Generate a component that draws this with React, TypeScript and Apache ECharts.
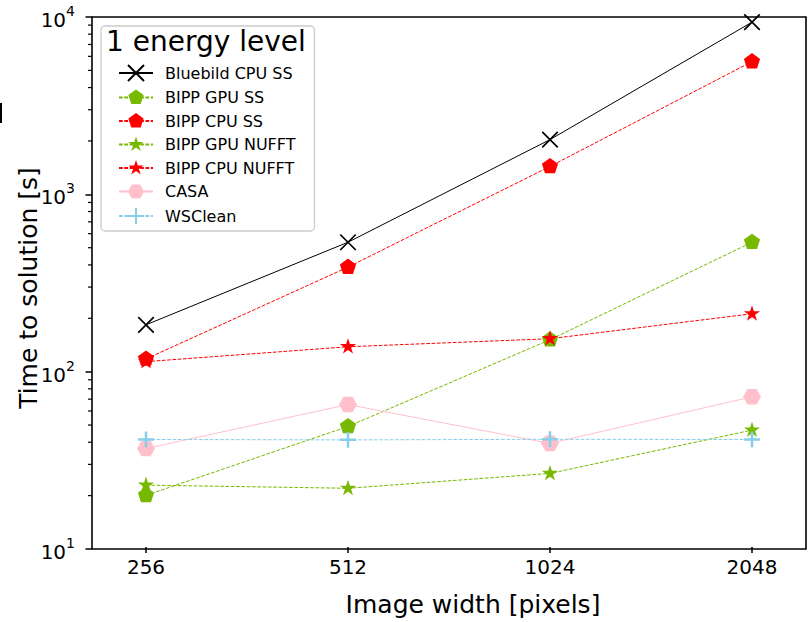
import { useEffect, useRef } from 'react';
import * as echarts from 'echarts';

// Image widths on the x axis (pixels)
const widths = ['256', '512', '1024', '2048'];

// Time to solution in seconds, one list per imager
const bluebildCpuSS = [181, 531, 2023, 9350];
const bippGpuSS = [19.6, 48.1, 149, 531];
const bippCpuSS = [116, 384, 1426, 5590];
const bippGpuNufft = [22.4, 21.5, 26.1, 45.9];
const bippCpuNufft = [112, 136, 151, 209];
const casa = [36.1, 64, 38.6, 70.8];
const wsclean = [40.6, 40.4, 40.7, 40.6];

// Minor ticks of the log axis (2..9 within each decade)
const minorTickValues = [
  20, 30, 40, 50, 60, 70, 80, 90,
  200, 300, 400, 500, 600, 700, 800, 900,
  2000, 3000, 4000, 5000, 6000, 7000, 8000, 9000,
];

const FONT = '"DejaVu Sans", sans-serif';

// Regular polygon / star outline on a unit circle, padded to a centred square box
function polyPath(n: number, startDeg: number, inner?: number): string {
  const pts: string[] = [];
  const count = inner ? n * 2 : n;
  for (let k = 0; k < count; k++) {
    const r = inner && k % 2 === 1 ? inner : 1;
    const a = ((startDeg + (k * 360) / count) * Math.PI) / 180;
    pts.push(`${(r * Math.cos(a)).toFixed(4)} ${(r * Math.sin(a)).toFixed(4)}`);
  }
  return `path://M${pts.join('L')}ZM-1 -1M1 1`;
}

const PENTAGON = polyPath(5, -90);
const STAR = polyPath(5, -90, 0.382);
const HEXAGON = polyPath(6, 0);
const CROSS = 'path://M-1 -1L1 1M1 -1L-1 1';
const PLUS = 'path://M0 -1L0 1M-1 0L1 0';

const DASH = [3.7, 1.6];

function makeSeries(
  name: string,
  data: number[],
  color: string,
  symbol: string,
  symbolSize: number,
  dashed: boolean,
  stroked: boolean,
) {
  return {
    type: 'line',
    name,
    data,
    xAxisIndex: 1,
    yAxisIndex: 1,
    symbol,
    symbolSize,
    showAllSymbol: true,
    lineStyle: { color, width: 1, type: dashed ? DASH : 'solid' },
    itemStyle: stroked
      ? { color, borderColor: color, borderWidth: name === 'WSClean' ? 2.5 : 1.7 }
      : { color, borderWidth: 0 },
    emphasis: { disabled: true },
  };
}

export default function App() {
  const ref = useRef<HTMLDivElement>(null);

  useEffect(() => {
    if (!ref.current) return;
    const chart = echarts.init(ref.current, undefined, { renderer: 'svg' });

    const green = '#76b900';
    const red = '#ff0000';

    chart.setOption({
      animation: false,
      backgroundColor: '#ffffff',
      title: {
        text: '1 energy level',
        left: 106,
        top: 27,
        padding: 0,
        z: 10,
        textStyle: { fontFamily: FONT, fontSize: 28, fontWeight: 'normal', color: '#000' },
      },
      legend: {
        orient: 'vertical',
        left: 101,
        top: 26,
        padding: [38, 19, 6, 17],
        itemWidth: 34,
        itemHeight: 20,
        itemGap: 7.5,
        selectedMode: false,
        backgroundColor: 'rgba(255,255,255,0.8)',
        borderColor: '#cccccc',
        borderWidth: 1.3,
        borderRadius: 4,
        textStyle: { fontFamily: FONT, fontSize: 16, color: '#000', padding: [0, 0, 0, 7] },
        data: [
          'Bluebild CPU SS',
          'BIPP GPU SS',
          'BIPP CPU SS',
          'BIPP GPU NUFFT',
          'BIPP CPU NUFFT',
          'CASA',
          'WSClean',
        ],
      },
      grid: [
        // plot frame
        {
          left: 92,
          right: 2,
          top: 17,
          bottom: 73,
          show: true,
          borderColor: '#000',
          borderWidth: 1.6,
          backgroundColor: 'transparent',
        },
        // data region between the first and last image width
        { left: 146, right: 56, top: 17, bottom: 73 },
      ],
      xAxis: [
        { gridIndex: 0, type: 'value', min: 0, max: 1, show: false },
        {
          gridIndex: 1,
          type: 'category',
          data: widths,
          boundaryGap: false,
          axisLine: { show: false },
          axisTick: { show: true, length: 6, lineStyle: { color: '#000', width: 1.5 } },
          axisLabel: { fontFamily: FONT, fontSize: 20, color: '#000', margin: 10 },
          splitLine: { show: false },
          name: 'Image width [pixels]',
          nameLocation: 'middle',
          nameGap: 45,
          nameMoveOverlap: false,
          nameTextStyle: { fontFamily: FONT, fontSize: 25, color: '#000', padding: [0, 0, 0, 48] },
        },
      ],
      yAxis: [
        {
          gridIndex: 0,
          type: 'log',
          position: 'left',
          min: 10,
          max: 10000,
          axisLine: { show: false },
          axisTick: { show: true, length: 6.5, lineStyle: { color: '#000', width: 1.5 } },
          splitLine: { show: false },
          axisLabel: {
            margin: 17,
            fontFamily: FONT,
            fontSize: 20,
            color: '#000',
            formatter: (v: number) => `{b|10}{s|${Math.round(Math.log10(v))}}`,
            rich: {
              b: { fontFamily: FONT, fontSize: 20, color: '#000', lineHeight: 26, verticalAlign: 'bottom' },
              s: { fontFamily: FONT, fontSize: 14, color: '#000', lineHeight: 14, verticalAlign: 'top' },
            },
          },
          name: 'Time to solution [s]',
          nameLocation: 'middle',
          nameGap: 51,
          nameMoveOverlap: false,
          nameTextStyle: { fontFamily: FONT, fontSize: 25, color: '#000', padding: [0, 10, 0, 0] },
        },
        { gridIndex: 1, type: 'log', min: 10, max: 10000, show: false },
      ],
      graphic: [{ type: 'rect', shape: { x: 0, y: 103, width: 2, height: 20 }, style: { fill: '#000' } }],
      series: [
        {
          // minor ticks of the log axis, drawn through the axis scale
          type: 'custom',
          name: 'minor ticks',
          xAxisIndex: 0,
          yAxisIndex: 0,
          clip: false,
          silent: true,
          data: minorTickValues.map((v) => [0, v]),
          renderItem: (_params: unknown, api: any) => {
            const p = api.coord([0, api.value(1)]);
            return {
              type: 'line',
              shape: { x1: p[0] - 4, y1: p[1], x2: p[0], y2: p[1] },
              style: { stroke: '#000', lineWidth: 1.2 },
            };
          },
        },
        makeSeries('Bluebild CPU SS', bluebildCpuSS, '#000000', CROSS, 15.5, false, true),
        makeSeries('BIPP GPU SS', bippGpuSS, green, PENTAGON, 17, true, false),
        makeSeries('BIPP CPU SS', bippCpuSS, red, PENTAGON, 17, true, false),
        makeSeries('BIPP GPU NUFFT', bippGpuNufft, green, STAR, 17, true, false),
        makeSeries('BIPP CPU NUFFT', bippCpuNufft, red, STAR, 17, true, false),
        makeSeries('CASA', casa, '#ffc0cb', HEXAGON, 18, false, false),
        makeSeries('WSClean', wsclean, '#87ceeb', PLUS, 16, true, true),
      ],
    });

    return () => chart.dispose();
  }, []);

  return (
    <div
      ref={ref}
      style={{ position: 'fixed', left: 0, top: 0, width: 808, height: 622, background: '#fff' }}
    />
  );
}
